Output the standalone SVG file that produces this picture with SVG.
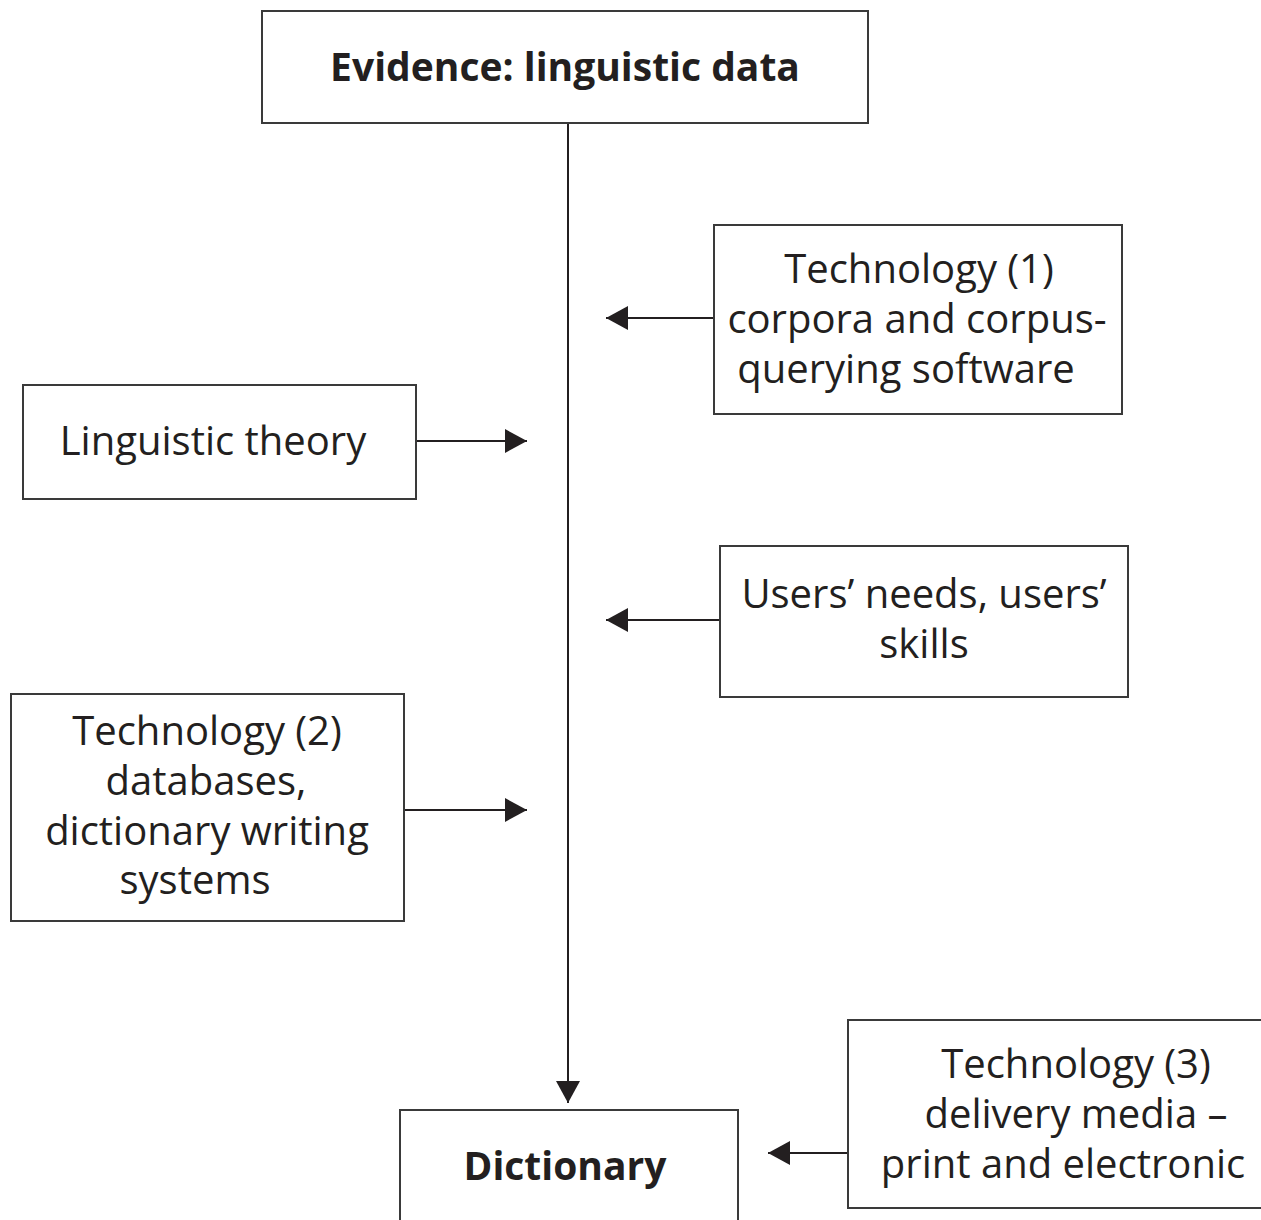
<svg xmlns="http://www.w3.org/2000/svg" width="1261" height="1220" viewBox="0 0 1261 1220">
  <style>
    .box { fill: #ffffff; stroke: #3a3a3a; stroke-width: 2; }
    .lbl { font-family: "Open Sans", "Liberation Sans", sans-serif; font-size: 40px; fill: #231f20; text-anchor: middle; }
    .bold { font-weight: bold; font-size: 39px; }
    .wire { fill: none; stroke: #231f20; stroke-width: 2; }
  </style>
  <defs>
    <marker id="head" viewBox="0 0 22 24" refX="22" refY="12" markerWidth="22" markerHeight="24" markerUnits="userSpaceOnUse" orient="auto">
      <path d="M0,0 L22,12 L0,24 Z" fill="#231f20"/>
    </marker>
  </defs>

  <rect width="1261" height="1220" fill="#ffffff"/>

  <!-- connectors -->
  <g id="connectors">
    <line class="wire" x1="568" y1="123" x2="568" y2="1103" marker-end="url(#head)"/>
    <line class="wire" x1="714" y1="318" x2="606" y2="318" marker-end="url(#head)"/>
    <line class="wire" x1="412" y1="441" x2="527" y2="441" marker-end="url(#head)"/>
    <line class="wire" x1="720" y1="620" x2="606" y2="620" marker-end="url(#head)"/>
    <line class="wire" x1="404" y1="810" x2="527" y2="810" marker-end="url(#head)"/>
    <line class="wire" x1="848" y1="1153" x2="768" y2="1153" marker-end="url(#head)"/>
  </g>

  <g id="evidence">
    <rect class="box" x="262" y="11" width="606" height="112"/>
    <text class="lbl bold" x="565" y="81">Evidence: linguistic data</text>
  </g>

  <g id="technology1">
    <rect class="box" x="714" y="225" width="408" height="189"/>
    <text class="lbl" x="919" y="283">Technology (1)</text>
    <text class="lbl" x="917" y="333">corpora and corpus-</text>
    <text class="lbl" x="906" y="383">querying software</text>
  </g>

  <g id="linguistic-theory">
    <rect class="box" x="23" y="385" width="393" height="114"/>
    <text class="lbl" x="213" y="455">Linguistic theory</text>
  </g>

  <g id="users">
    <rect class="box" x="720" y="546" width="408" height="151"/>
    <text class="lbl" x="924" y="608">Users’ needs, users’</text>
    <text class="lbl" x="924" y="658">skills</text>
  </g>

  <g id="technology2">
    <rect class="box" x="11" y="694" width="393" height="227"/>
    <text class="lbl" x="207" y="745">Technology (2)</text>
    <text class="lbl" x="206" y="795">databases,</text>
    <text class="lbl" x="207" y="845">dictionary writing</text>
    <text class="lbl" x="195" y="894">systems</text>
  </g>

  <g id="dictionary">
    <rect class="box" x="400" y="1110" width="338" height="120"/>
    <text class="lbl bold" x="565" y="1180">Dictionary</text>
  </g>

  <g id="technology3">
    <rect class="box" x="848" y="1020" width="420" height="188"/>
    <text class="lbl" x="1076" y="1078">Technology (3)</text>
    <text class="lbl" x="1076" y="1128">delivery media –</text>
    <text class="lbl" x="1063" y="1178">print and electronic</text>
  </g>
</svg>
